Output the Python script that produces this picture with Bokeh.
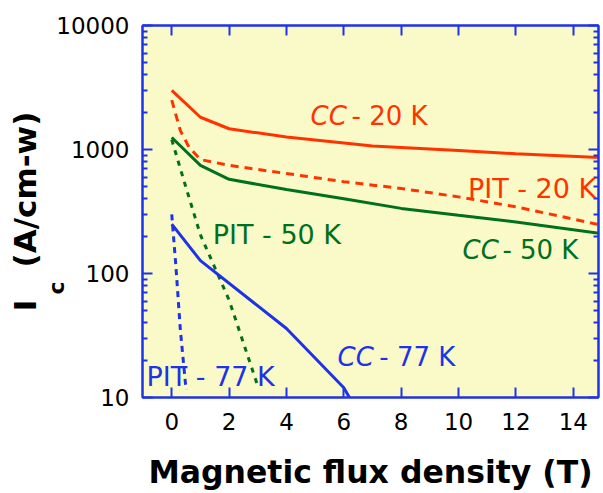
from bokeh.plotting import figure
from bokeh.models import (Label, LinearAxis, LogAxis, FixedTicker,
                          PrintfTickFormatter)
from bokeh.embed import file_html
from bokeh.resources import INLINE

# ---- data ----
cc20_x = [0, 1, 2, 4, 7, 10, 12, 15]
cc20_y = [3000, 1820, 1470, 1260, 1065, 980, 925, 860]

pit20_x = [0, 0.3, 0.6, 1, 2, 4, 6, 8, 10, 12, 15]
pit20_y = [2500, 1420, 1045, 830, 745, 640, 550, 485, 415, 345, 245]

cc50_x = [0, 1, 2, 4, 6, 8, 10, 12, 15]
cc50_y = [1250, 745, 575, 475, 400, 335, 295, 260, 210]

pit50_x = [0, 0.5, 1, 2, 3.03]
pit50_y = [1200, 490, 205, 61, 11.8]

cc77_x = [0, 1, 4, 6, 6.25]
cc77_y = [250, 127, 36, 12, 9.5]

pit77_x = [0, 0.15, 0.3, 0.5]
pit77_y = [300, 110, 35, 11.5]

x_ticks = [0, 2, 4, 6, 8, 10, 12, 14]
y_ticks = [10, 100, 1000, 10000]
y_minor = [m * 10 ** e for e in range(1, 4) for m in range(2, 10)]

RED = "#FF3300"
GREEN = "#00701E"
BLUE = "#1E32E6"
FONT = "DejaVu Sans"
NB = "\u00a0"

p = figure(x_range=(-1.02, 14.88), y_range=(10, 10000), y_axis_type="log",
           frame_width=456, frame_height=372,
           min_border_left=142, min_border_right=5, min_border_top=25,
           min_border_bottom=96,
           output_backend="svg", toolbar_location=None)
p.background_fill_color = "#FAFAC8"
p.border_fill_color = "white"
p.grid.visible = False
p.outline_line_color = BLUE
p.outline_line_width = 2

def style_axis(ax, labels=True):
    ax.axis_line_color = BLUE
    ax.axis_line_width = 2
    ax.major_tick_line_color = BLUE
    ax.major_tick_line_width = 2
    ax.minor_tick_line_color = BLUE
    ax.minor_tick_line_width = 2
    ax.major_tick_in = 10
    ax.major_tick_out = 0
    ax.minor_tick_in = 5
    ax.minor_tick_out = 0
    if labels:
        ax.major_label_text_font = FONT
        ax.major_label_text_font_size = "23px"
        ax.major_label_text_color = "black"
    else:
        ax.major_label_text_font_size = "0px"
        ax.major_label_text_color = None
        ax.major_label_standoff = 0

xt = FixedTicker(ticks=x_ticks)
yt = FixedTicker(ticks=y_ticks, minor_ticks=y_minor)

xa = p.xaxis[0]
xa.ticker = xt
style_axis(xa)
xa.major_label_standoff = 15
xa.axis_label = "Magnetic flux density (T)"
xa.axis_label_text_font = FONT
xa.axis_label_text_font_style = "bold"
xa.axis_label_text_font_size = "31.5px"
xa.axis_label_text_color = "black"
xa.axis_label_standoff = 21

# main y axis: ticks + tick labels; its axis label carries the subscript "c"
ya = p.yaxis[0]
ya.ticker = yt
ya.formatter = PrintfTickFormatter(format="%d")
style_axis(ya)
ya.major_label_standoff = 13
ya.axis_label = "c" + NB * 20
ya.axis_label_text_font = FONT
ya.axis_label_text_font_style = "bold"
ya.axis_label_text_font_size = "22px"
ya.axis_label_text_color = "black"
ya.axis_label_standoff = -16

# outer (invisible) y axis carrying "I (A/cm-w)"
ytitle = LogAxis(ticker=FixedTicker(ticks=[]))
ytitle.axis_line_color = None
ytitle.major_tick_line_color = None
ytitle.minor_tick_line_color = None
ytitle.major_tick_in = 0
ytitle.major_tick_out = 0
ytitle.minor_tick_in = 0
ytitle.minor_tick_out = 0
ytitle.major_label_text_font_size = "0px"
ytitle.major_label_standoff = 0
ytitle.axis_label = "I" + NB * 3 + "(A/cm-w)"
ytitle.axis_label_text_font = FONT
ytitle.axis_label_text_font_style = "bold"
ytitle.axis_label_text_font_size = "31px"
ytitle.axis_label_text_color = "black"
ytitle.axis_label_standoff = -1
p.add_layout(ytitle, "left")

top = LinearAxis(ticker=xt)
style_axis(top, labels=False)
p.add_layout(top, "above")
right = LogAxis(ticker=yt)
style_axis(right, labels=False)
p.add_layout(right, "right")

p.line(cc20_x, cc20_y, line_color=RED, line_width=3)
p.line(pit20_x, pit20_y, line_color=RED, line_width=3, line_dash="8 6")
p.line(cc50_x, cc50_y, line_color=GREEN, line_width=3)
p.line(pit50_x, pit50_y, line_color=GREEN, line_width=3, line_dash="5 6")
p.line(cc77_x, cc77_y, line_color=BLUE, line_width=3)
p.line(pit77_x, pit77_y, line_color=BLUE, line_width=3, line_dash="6 5")

def lab(x, y, text, color, align="left", style="normal", size="26px"):
    p.add_layout(Label(x=x, y=y, text=text, text_color=color, text_font=FONT,
                       text_font_size=size, text_font_style=style,
                       text_align=align, text_baseline="alphabetic"))

lab(4.84, 1848, "CC", RED, style="italic")
lab(8.92, 1848, "- 20 K", RED, align="right")
lab(14.8, 485, "PIT - 20 K", RED, align="right", size="27px")
lab(10.14, 156, "CC", GREEN, style="italic")
lab(14.18, 156, "- 50 K", GREEN, align="right")
lab(1.43, 206, "PIT - 50 K", GREEN, size="27px")
lab(5.78, 21.4, "CC", BLUE, style="italic")
lab(9.89, 21.4, "- 77 K", BLUE, align="right")
lab(-0.88, 14.8, "PIT - 77 K", BLUE, size="27px")

open("out.html", "w").write(file_html(p, INLINE))
